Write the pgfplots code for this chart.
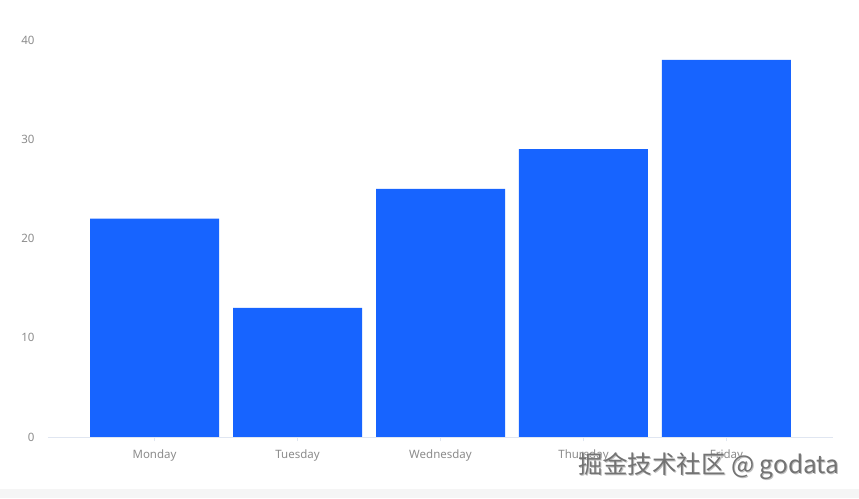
\documentclass[border=0pt]{standalone}
\usepackage{pgfplots}
\pgfplotsset{compat=1.18}
\usepackage{fontspec}
\setmainfont{Noto Sans}
\newfontfamily\cjk{Noto Sans CJK SC}

\definecolor{barblue}{HTML}{1764FF}
\definecolor{axisline}{HTML}{E0E6F1}
\definecolor{gridc}{HTML}{F2F3F5}
\definecolor{labelc}{HTML}{8C8C8C}
\definecolor{stripc}{HTML}{F5F5F5}

\begin{document}
\begin{tikzpicture}
% page frame: 859 x 498
\path[fill=white] (-48pt,-61pt) rectangle (811pt,437pt);
\fill[stripc] (-48pt,-61pt) rectangle (811pt,-52pt);
\begin{axis}[
  at={(0pt,0pt)}, anchor=south west,
  scale only axis, width=785pt, height=397pt,
  ymin=0, ymax=40, ytick={0,10,20,30,40},
  xmin=-0.745, xmax=4.745,
  xtick={0,1,2,3,4},
  xticklabels={Monday,Tuesday,Wednesday,Thursday,Friday},
  axis line style={draw=none},
  axis x line*=bottom, axis y line=none,
  ymajorgrids, grid style={gridc, line width=0.8pt},
  major x tick style={axisline, line width=0.8pt},
  xtick align=outside, major tick length=4pt,
  ytick style={draw=none},
  tick label style={font=\fontsize{11.5}{13}\selectfont, text=labelc},
  /pgf/number format/assume math mode=true,
  x tick label style={yshift=-5pt},
  ybar, bar width=129pt, bar shift=0pt,
  clip=false,
  extra description/.code={
    \draw[axisline, line width=1pt] (rel axis cs:0,0) -- (rel axis cs:1,0);
    \foreach \v/\p in {0/0,10/0.25,20/0.5,30/0.75,40/1}{
      \node[anchor=east, font=\fontsize{11.5}{13}\selectfont, text=labelc]
        at ([xshift=-10pt]rel axis cs:0,\p) {\v};
    }
  },
]
\addplot[fill=barblue, draw=none] coordinates {
(0,22) (1,13) (2,25) (3,29) (4,38)
};
\end{axis}
\node[text=black!25, font=\cjk\fontsize{24.5}{26}\selectfont] at (662pt,-30pt) {掘金技术社区 @ godata};
\node[text=black!55, font=\cjk\fontsize{24.5}{26}\selectfont] at (661pt,-29pt) {掘金技术社区 @ godata};
\end{tikzpicture}
\end{document}
